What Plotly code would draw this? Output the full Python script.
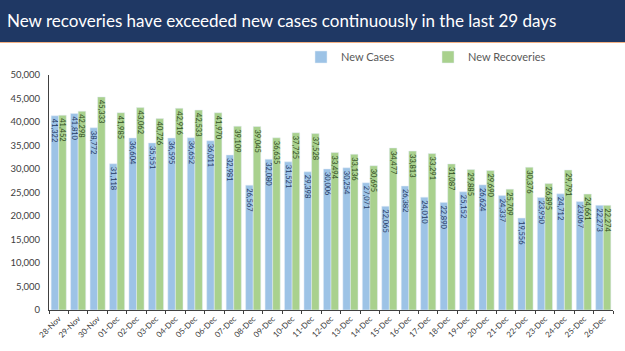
import plotly.graph_objects as go

dates = ["28-Nov", "29-Nov", "30-Nov", "01-Dec", "02-Dec", "03-Dec", "04-Dec", "05-Dec",
         "06-Dec", "07-Dec", "08-Dec", "09-Dec", "10-Dec", "11-Dec", "12-Dec", "13-Dec",
         "14-Dec", "15-Dec", "16-Dec", "17-Dec", "18-Dec", "19-Dec", "20-Dec", "21-Dec",
         "22-Dec", "23-Dec", "24-Dec", "25-Dec", "26-Dec"]
new_cases = [41322, 41810, 38772, 31118, 36604, 35551, 36595, 36652, 36011, 32981,
             26567, 32080, 31521, 29398, 30006, 30254, 27071, 22065, 26382, 24010,
             22890, 25152, 26624, 24337, 19556, 23950, 24712, 23067, 22273]
new_recoveries = [41452, 42298, 45333, 41985, 43062, 40726, 42916, 42533, 41970, 39109,
                  39045, 36635, 37725, 37528, 33494, 33136, 30695, 34477, 33813, 33291,
                  31087, 29885, 29690, 25709, 30376, 26895, 29791, 24661, 22274]
y_ticks = [0, 5000, 10000, 15000, 20000, 25000, 30000, 35000, 40000, 45000, 50000]
title_text = "New recoveries have exceeded new cases continuously in the last 29 days"

FONT = "Lato, 'Open Sans', sans-serif"

W, H = 625, 351
ML, MR, MT, MB = 49, 12, 75, 41
PW, PH = W - ML - MR, H - MT - MB


def px_x(p):
    return (p - ML) / PW


def px_y(p):
    return (H - MB - p) / PH


fig = go.Figure()
fig.add_trace(go.Bar(
    x=dates, y=new_cases, name="New Cases",
    marker=dict(color="#9DC3E6"),
    text=[f"{v:,}" for v in new_cases], texttemplate="%{text}",
    textposition="inside", insidetextanchor="end", textangle=90,
    constraintext="none",
    insidetextfont=dict(size=7.5, color="#1F3864", family=FONT),
))
fig.add_trace(go.Bar(
    x=dates, y=new_recoveries, name="New Recoveries",
    marker=dict(color="#A9D18E"),
    text=[f"{v:,}" for v in new_recoveries], texttemplate="%{text}",
    textposition="inside", insidetextanchor="end", textangle=90,
    constraintext="none",
    insidetextfont=dict(size=7.5, color="#2E4A1B", family=FONT),
))

fig.update_layout(
    width=W, height=H,
    margin=dict(l=ML, r=MR, t=MT, b=MB),
    paper_bgcolor="white", plot_bgcolor="white",
    barmode="group", bargap=0.22, bargroupgap=0.0,
    font=dict(family=FONT, size=9, color="#404040"),
    showlegend=True,
    legend=dict(orientation="h", x=px_x(301), xanchor="left", y=px_y(57), yanchor="middle",
                font=dict(size=11, color="#595959"), bgcolor="rgba(0,0,0,0)",
                traceorder="normal", entrywidth=82),
    shapes=[
        dict(type="rect", xref="paper", yref="paper", x0=px_x(-5), x1=px_x(W + 5),
             y0=px_y(42), y1=px_y(-5),
             fillcolor="#1F3864", line=dict(width=0), layer="above"),
        dict(type="line", xref="paper", yref="paper", x0=px_x(-5), x1=px_x(W + 5),
             y0=px_y(42.5), y1=px_y(42.5),
             line=dict(color="#F4B183", width=1), layer="above"),
    ],
    annotations=[
        dict(text=title_text, xref="paper", yref="paper",
             x=px_x(5), xanchor="left", y=px_y(21), yanchor="middle",
             showarrow=False, font=dict(size=17, color="white", family=FONT)),
    ],
)
fig.update_xaxes(
    type="category", tickangle=-45, tickfont=dict(size=8, color="#404040"),
    showline=True, linecolor="#404040", linewidth=1,
    ticks="outside", tickson="boundaries", ticklen=3, tickcolor="#404040",
    showgrid=False, automargin=False,
)
fig.update_yaxes(
    range=[0, 50000], tickvals=y_ticks, tickformat=",",
    tickfont=dict(size=9.5, color="#404040"),
    showline=True, linecolor="#404040", linewidth=1,
    showgrid=False, ticks="", zeroline=False, automargin=False,
    ticklabelstandoff=6,
)

fig.write_html("out.html")
